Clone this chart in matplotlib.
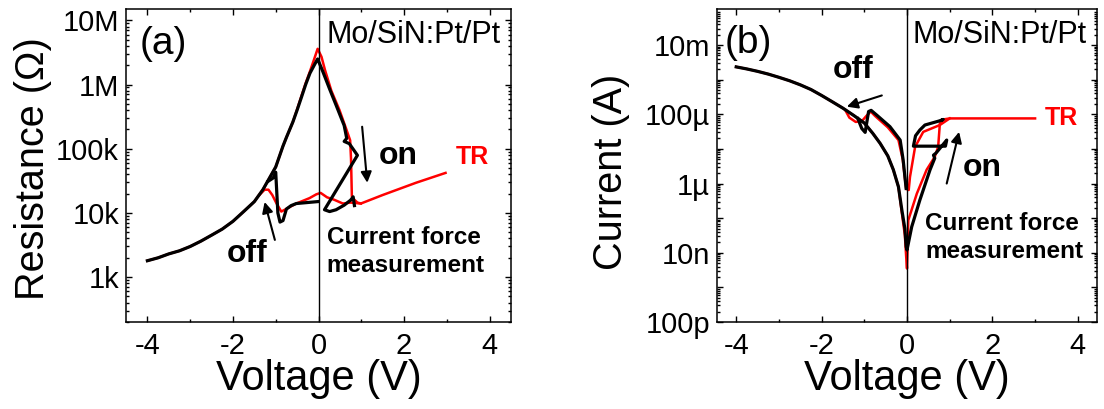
import numpy as np
import matplotlib
matplotlib.use("Agg")
import matplotlib.pyplot as plt
from matplotlib.ticker import LogLocator, NullFormatter, FixedLocator

plt.rcParams['font.family'] = ['Liberation Sans', 'DejaVu Sans']
plt.rcParams['axes.unicode_minus'] = False

# ---- (a) resistance vs voltage ----
# HRS branch, shared voltage points
a_hrs_v = [-4.0, -3.75, -3.5, -3.25, -3.0, -2.75, -2.5, -2.25, -2.0, -1.75, -1.5, -1.3, -1.0,
           -0.83, -0.75, -0.6, -0.5, -0.4, -0.3, -0.2, -0.1, -0.02]
a_hrs_black = [1.8e3, 2.0e3, 2.3e3, 2.57e3, 3.0e3, 3.63e3, 4.5e3, 5.6e3, 7.4e3, 1.05e4, 1.5e4,
               2.3e4, 5.2e4, 1.1e5, 1.5e5, 2.6e5, 4.0e5, 6.3e5, 1.0e6, 1.5e6, 2.0e6, 2.5e6]
a_hrs_red = [1.8e3, 2.0e3, 2.3e3, 2.57e3, 3.0e3, 3.63e3, 4.5e3, 5.6e3, 7.4e3, 1.05e4, 1.5e4,
             2.3e4, 5.2e4, 1.1e5, 1.5e5, 2.6e5, 4.1e5, 6.6e5, 1.05e6, 1.6e6, 2.5e6, 3.6e6]

# set sweep (positive side)
a_set_red_v = [0.07, 0.15, 0.3, 0.49, 0.64, 0.74, 0.76, 0.78, 0.84, 0.91, 0.99, 1.5, 2.28, 2.97]
a_set_red_r = [2.7e6, 1.7e6, 8.0e5, 4.0e5, 2.1e5, 1.35e5, 7.0e4, 1.8e4, 1.6e4, 1.45e4, 1.4e4,
               1.9e4, 2.95e4, 4.2e4]
a_set_black_v = [0.10, 0.26, 0.41, 0.60, 0.66, 0.60, 0.72, 0.91, 0.14, 0.26, 0.41, 0.60, 0.75, 0.81, 0.84]
a_set_black_r = [1.6e6, 8.5e5, 4.8e5, 2.3e5, 1.45e5, 1.3e5, 1.2e5, 7.9e4, 1.12e4, 1.05e4, 1.12e4,
                 1.32e4, 1.58e4, 1.78e4, 1.3e4]

# LRS return / reset sweep
a_reset_red_v = [0.99, 0.75, 0.57, 0.37, 0.2, 0.05, -0.05, -0.21, -0.52, -0.79, -0.87, -0.98,
                 -1.08, -1.17, -1.26, -1.4]
a_reset_red_r = [1.4e4, 1.45e4, 1.4e4, 1.6e4, 1.75e4, 2.05e4, 1.95e4, 1.7e4, 1.4e4, 1.12e4, 1.05e4,
                 1.4e4, 1.9e4, 2.3e4, 2.3e4, 1.85e4]
a_reset_black_v = [-0.02, -0.52, -0.64, -0.75, -0.83, -0.9, -0.95, -1.0, -1.06, -1.18]
a_reset_black_r = [1.5e4, 1.4e4, 1.3e4, 1.15e4, 7.6e3, 7.2e3, 1.0e4, 4.3e4, 3.5e4, 3.1e4]

# ---- (b) current vs voltage ----
b_hrs_v = [-4.0, -3.75, -3.5, -3.25, -3.0, -2.75, -2.5, -2.25, -2.0, -1.75, -1.5, -1.25, -1.0,
           -0.8, -0.63, -0.45, -0.32, -0.2, -0.12, -0.05, -0.02]
b_hrs_black = [2.34e-3, 2.04e-3, 1.74e-3, 1.45e-3, 1.17e-3, 9.3e-4, 7.1e-4, 5.2e-4, 3.5e-4, 2.3e-4,
               1.5e-4, 9.3e-5, 5.6e-5, 2.8e-5, 1.45e-5, 6.3e-6, 2.5e-6, 8.0e-7, 1.7e-7, 5.0e-8, 1.5e-8]
b_hrs_red = [2.34e-3, 2.04e-3, 1.74e-3, 1.45e-3, 1.17e-3, 9.3e-4, 7.1e-4, 5.2e-4, 3.5e-4, 2.3e-4,
             1.5e-4, 9.3e-5, 5.6e-5, 2.8e-5, 1.45e-5, 6.3e-6, 2.5e-6, 8.0e-7, 1.4e-7, 3.2e-8, 8.0e-9]

b_set_black_v = [0.0, 0.11, 0.30, 0.54, 0.65, 0.62, 0.68, 0.93, 0.90, 0.15, 0.2, 0.3, 0.42, 0.77, 0.85, 0.82]
b_set_black_i = [1.2e-8, 5.6e-8, 3.3e-7, 2.5e-6, 5.4e-6, 6.6e-6, 7.6e-6, 1.8e-5, 1.2e-5, 1.2e-5,
                 2.4e-5, 3.5e-5, 4.9e-5, 6.5e-5, 7.1e-5, 6.8e-5]
b_set_red_v = [0.0, 0.03, 0.23, 0.46, 0.65, 0.73, 0.77, 0.85, 1.0, 1.2, 2.0, 3.0]
b_set_red_i = [3.5e-9, 8.7e-8, 5.1e-7, 2.5e-6, 5.9e-6, 1.15e-5, 5.5e-5, 7.1e-5, 7.6e-5, 7.6e-5,
               7.6e-5, 7.6e-5]

b_reset_black_v = [-0.02, -0.09, -0.16, -0.40, -0.71, -0.84, -0.90, -0.98, -1.06, -1.15]
b_reset_black_i = [7.2e-7, 4.8e-6, 1.8e-5, 4.4e-5, 9.5e-5, 1.3e-4, 1.2e-4, 3.0e-5, 3.9e-5, 7.5e-5]
b_reset_red_v = [1.0, 0.77, 0.38, 0.19, 0.07, 0.04, -0.02, -0.1, -0.2, -0.45, -0.75, -0.85, -0.95,
                 -1.05, -1.2, -1.35, -1.45]
b_reset_red_i = [7.6e-5, 4.9e-5, 3.1e-5, 1.15e-5, 1.55e-6, 6.5e-7, 7.0e-7, 5.0e-6, 1.8e-5, 4.2e-5,
                 9.0e-5, 1.2e-4, 9.0e-5, 6.5e-5, 6.0e-5, 8.0e-5, 1.35e-4]

r_ticks = [1e3, 1e4, 1e5, 1e6, 1e7]
r_labels = ['1k', '10k', '100k', '1M', '10M']
i_ticks = [1e-10, 1e-9, 1e-8, 1e-7, 1e-6, 1e-5, 1e-4, 1e-3, 1e-2]
i_labels = ['100p', '', '10n', '', '1µ', '', '100µ', '', '10m']

RED = '#ff0000'
TICK_FS = 21


def style_axes(ax):
    ax.set_yscale('log')
    ax.set_xlim(-4.5, 4.5)
    ax.set_xticks([-4, -2, 0, 2, 4])
    ax.set_xticks([-3, -1, 1, 3], minor=True)
    ax.yaxis.set_minor_locator(LogLocator(base=10, subs=np.arange(2, 10), numticks=100))
    ax.yaxis.set_minor_formatter(NullFormatter())
    ax.tick_params(which='both', direction='in', top=True, right=True, width=1)
    ax.tick_params(which='major', length=4)
    ax.tick_params(which='minor', length=2.2)
    ax.tick_params(axis='x', labelsize=TICK_FS, pad=7.5)
    ax.tick_params(axis='y', labelsize=TICK_FS, pad=5)
    for s in ax.spines.values():
        s.set_linewidth(1.1)
    ax.axvline(0, color='k', lw=1)
    ax.set_xlabel('Voltage (V)', fontsize=30)
    ax.xaxis.set_label_coords(0.5, -0.118)


def arrow(ax, tail, head):
    ax.annotate('', xy=head, xytext=tail,
                arrowprops=dict(arrowstyle='-|>', color='k', lw=1.5, mutation_scale=16,
                                shrinkA=0, shrinkB=0))


fig = plt.figure(figsize=(11.04, 4.09), dpi=100)
ax1 = fig.add_axes([126 / 1104, 87 / 409, 385 / 1104, 313 / 409])
ax2 = fig.add_axes([717 / 1104, 87 / 409, 380 / 1104, 313 / 409])

# panel (a)
ax1.plot(a_hrs_v + a_set_red_v, a_hrs_red + a_set_red_r, color=RED, lw=1.8)
ax1.plot(a_reset_red_v, a_reset_red_r, color=RED, lw=1.8)
ax1.plot(a_hrs_v + a_set_black_v, a_hrs_black + a_set_black_r, color='k', lw=2.3)
ax1.plot(a_reset_black_v, a_reset_black_r, color='k', lw=2.3)
style_axes(ax1)
ax1.set_ylim(2.0e2, 1.5e7)
ax1.set_yticks(r_ticks)
ax1.set_yticklabels(r_labels)
ax1.set_ylabel('Resistance (Ω)', fontsize=28.5)
ax1.yaxis.set_label_coords(-0.192, 0.49)

ax1.text(0.036, 0.888, '(a)', transform=ax1.transAxes, fontsize=28, ha='left', va='center')
ax1.text(0.19, 0.917, 'Mo/SiN:Pt/Pt', transform=ax1.get_xaxis_transform(), fontsize=22,
         ha='left', va='center')
ax1.text(1.40, 7.7e4, 'on', fontsize=23, fontweight='bold', ha='left', va='center')
ax1.text(3.2, 7.5e4, 'TR', fontsize=18, fontweight='bold', color=RED, ha='left', va='center')
ax1.text(-2.14, 2.3e3, 'off', fontsize=23, fontweight='bold', ha='left', va='center')
ax1.text(0.19, 2.5e3, 'Current force\nmeasurement', fontsize=17.5, fontweight='bold',
         ha='left', va='center', linespacing=1.25)
arrow(ax1, (1.02, 2.2e5), (1.14, 2.95e4))
arrow(ax1, (-1.02, 3.8e3), (-1.26, 1.48e4))

# panel (b)
ax2.plot(b_hrs_v + b_set_red_v, b_hrs_red + b_set_red_i, color=RED, lw=1.8)
ax2.plot(b_reset_red_v, b_reset_red_i, color=RED, lw=1.8)
ax2.plot(b_hrs_v + b_set_black_v, b_hrs_black + b_set_black_i, color='k', lw=2.3)
ax2.plot(b_reset_black_v, b_reset_black_i, color='k', lw=2.3)
style_axes(ax2)
ax2.set_xlim(-4.45, 4.45)
ax2.set_ylim(1e-10, 0.11)
ax2.yaxis.set_major_locator(FixedLocator(i_ticks))
ax2.set_yticklabels(i_labels)
ax2.set_ylabel('Current (A)', fontsize=28.5)
ax2.yaxis.set_label_coords(-0.229, 0.48)

ax2.text(0.021, 0.891, '(b)', transform=ax2.transAxes, fontsize=28, ha='left', va='center')
ax2.text(0.14, 0.917, 'Mo/SiN:Pt/Pt', transform=ax2.get_xaxis_transform(), fontsize=22,
         ha='left', va='center')
ax2.text(-1.73, 1.9e-3, 'off', fontsize=23, fontweight='bold', ha='left', va='center')
ax2.text(1.31, 2.8e-6, 'on', fontsize=23, fontweight='bold', ha='left', va='center')
ax2.text(3.23, 7.8e-5, 'TR', fontsize=18, fontweight='bold', color=RED, ha='left', va='center')
ax2.text(0.42, 2.75e-8, 'Current force\nmeasurement', fontsize=17.5, fontweight='bold',
         ha='left', va='center', linespacing=1.25)
arrow(ax2, (-0.59, 3.5e-4), (-1.41, 1.66e-4))
arrow(ax2, (0.93, 1.0e-6), (1.22, 3.1e-5))

fig.savefig('out.png', dpi=100)
